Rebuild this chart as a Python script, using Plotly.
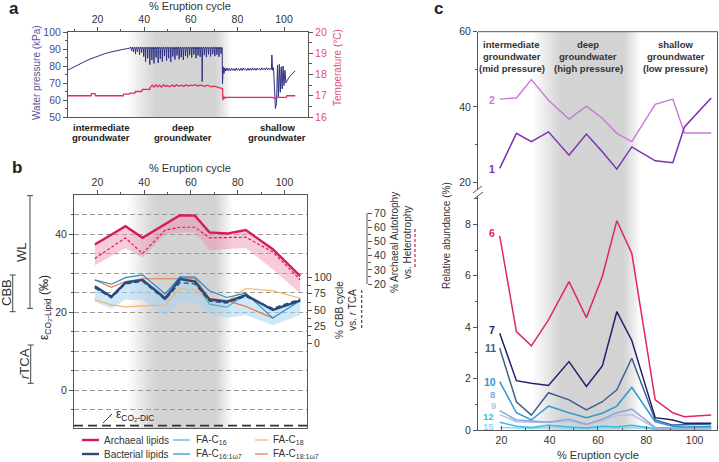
import plotly.graph_objects as go

W, H = 719, 462
FONT = "Liberation Sans, Arial, Helvetica, sans-serif"


def fx(p):
    return p / W


def fy(p):
    return 1 - p / H


# ---------------- Panel a : water pressure (kPa) and temperature (°C) ----------------
ramp_x = [7.3, 9, 11, 13, 15, 17, 19, 21, 23, 25, 27, 29, 31, 33, 34]
ramp_p = [77.6, 78.9, 80.3, 81.7, 83.0, 84.2, 85.3, 86.3, 87.2, 88.0, 88.7, 89.2, 89.8, 90.3, 90.6]

spike_x = [34.6, 35.4, 36.3, 37.1, 38.0, 38.9, 39.8, 40.6, 41.5, 42.4, 43.3, 44.2, 45.1, 46.0, 46.9,
           47.8, 48.7, 49.6, 50.5, 51.4, 52.3, 53.2, 54.1, 55.0, 55.9, 56.8, 57.7, 58.6, 59.5, 60.4,
           61.3, 62.2, 63.1, 64.0, 64.9, 65.8, 66.7, 67.6, 68.5, 69.4, 70.3, 71.2, 72.1, 73.0]
spike_p = [89.0, 88.2, 87.0, 88.5, 86.5, 87.8, 85.5, 82.5, 84.5, 80.8, 83.5, 81.5, 85.0, 81.8, 84.2,
           82.6, 85.8, 83.2, 84.6, 82.4, 85.6, 83.8, 86.2, 84.0, 85.2, 83.6, 86.0, 84.8, 86.4, 85.0,
           86.8, 84.6, 86.2, 85.4, 70.8, 86.4, 85.2, 86.8, 85.6, 87.0, 85.8, 86.6, 85.4, 87.2]

shallow_x = [73.45, 73.6, 73.9, 74.2, 74.6, 75.0, 75.5, 76.0, 76.5, 77.0, 77.5, 78.0, 78.5, 79.0, 79.5,
             80.0, 80.5, 81.0, 81.5, 82.0, 82.5, 83.0, 83.5, 84.0, 84.5, 85.0, 85.5, 86.0, 86.5, 87.0,
             87.5, 88.0, 88.5, 89.0, 89.5, 90.0, 90.5, 91.0, 91.5, 92.0, 92.5, 93.0, 93.5, 94.0, 94.4]
shallow_p = [90.8, 69.5, 79.5, 75.5, 78.9, 77.0, 78.8, 77.3, 78.6, 77.1, 78.7, 77.4, 78.5, 77.2, 78.8,
             77.5, 78.6, 77.3, 78.7, 77.4, 78.9, 77.6, 78.5, 77.3, 78.8, 77.5, 78.6, 77.4, 78.9, 77.6,
             78.7, 77.5, 78.8, 77.7, 78.6, 77.5, 78.9, 77.8, 78.7, 77.6, 79.0, 77.8, 78.8, 77.9, 78.5]

rec_x = [94.6, 94.8, 95.1, 95.5, 95.9, 96.3, 96.8, 97.2, 97.6, 98.0, 98.4, 98.8, 99.2, 99.6, 100.0,
         100.4, 100.8, 101.3, 102.0, 102.8, 103.6, 104.4, 104.8]
rec_p = [78.0, 86.5, 77.5, 79.0, 68.0, 55.0, 58.0, 80.5, 62.0, 81.0, 64.5, 79.5, 66.5, 80.0, 68.5,
         77.5, 70.0, 71.5, 73.0, 74.3, 75.5, 76.5, 77.2]

temp_x = [7.3, 17.2, 17.4, 18.9, 19.1, 31.0, 31.2, 33.6, 33.8, 36.0, 36.2, 39.0, 39.2, 42.4, 42.6,
          43.5, 44.2, 45.0, 45.8, 46.6, 47.4, 48.3, 49.1, 50.0, 51.0, 52.0, 53.0, 54.0, 55.0, 56.0,
          57.0, 58.0, 59.0, 60.0, 61.0, 62.0, 63.0, 64.0, 65.0, 66.0, 67.0, 68.0, 69.0, 70.0, 71.0,
          72.0, 73.0, 73.6, 73.8, 74.2, 74.6, 75.0, 95.0, 96.0, 97.0, 101.0, 101.2, 104.8]
temp_c = [17.0, 17.0, 17.1, 17.1, 17.0, 17.0, 17.08, 17.08, 17.12, 17.12, 17.2, 17.2, 17.3, 17.3, 17.4,
          17.5, 17.4, 17.52, 17.42, 17.5, 17.4, 17.52, 17.44, 17.48, 17.42, 17.5, 17.44, 17.52, 17.45, 17.5,
          17.44, 17.52, 17.46, 17.5, 17.48, 17.52, 17.46, 17.5, 17.48, 17.44, 17.5, 17.46, 17.42, 17.45, 17.4,
          17.38, 17.36, 17.35, 16.8, 16.96, 16.88, 16.92, 16.92, 16.88, 16.92, 16.92, 17.0, 17.0]

# ---------------- Panel b : isotope fractionation ----------------
arch_x = [18.9, 32.0, 39.3, 49.0, 55.3, 61.7, 67.9, 75.3, 83.4, 95.0, 106.7]
arch_eps = [37.4, 42.1, 39.1, 42.6, 44.9, 44.8, 40.5, 40.2, 41.1, 36.2, 29.3]
arch_low = [32.0, 36.5, 34.0, 40.0, 40.5, 40.5, 36.0, 36.2, 36.5, 31.0, 24.9]
arch_auto = [38, 52.5, 41.5, 58, 60, 60, 52.5, 52.5, 53, 42.5, 23]

bact_x = [18.9, 26.0, 32.0, 39.3, 49.0, 55.3, 61.7, 67.9, 75.3, 83.4, 95.0, 106.7]
bact_eps = [26.7, 24.0, 27.6, 28.3, 23.6, 28.5, 27.9, 23.3, 22.7, 24.4, 20.6, 23.0]
bact_low = [22.7, 21.0, 23.2, 23.2, 18.9, 22.7, 22.3, 19.6, 18.5, 19.3, 16.7, 19.3]
cbb_pct = [84, 69, 90, 94, 66, 92, 90, 64, 61, 71, 53, 67]
fa_c16 = [26.4, 24.0, 27.8, 28.4, 23.2, 29.0, 27.9, 22.1, 21.3, 24.6, 20.6, 23.2]
fa_c161 = [28.3, 27.2, 28.9, 29.6, 24.7, 29.1, 29.0, 25.5, 23.8, 24.9, 18.5, 23.0]
fa_c18 = [23.2, 21.9, 21.4, 21.6, 21.9, 26.1, 25.7, 23.0, 22.8, 26.1, 25.5, 23.6]
fa_c181_x = [18.9, 26.0, 32.0, 39.3, 49.0, 55.3, 61.7, 67.9, 75.3, 83.4, 95.0]
fa_c181 = [28.3, 26.4, 27.9, 28.6, 28.6, 28.6, 28.6, 23.6, 23.0, 21.5, 18.5]
eps_dic = -9.1

# ---------------- Panel c : relative abundance ----------------
c_x = [19.3, 26.2, 32.4, 39.5, 48.0, 55.2, 61.8, 67.8, 74.0, 83.7, 91.0, 95.8, 106.9]
s1 = [23.7, 33.0, 30.8, 33.4, 27.2, 32.8, 28.1, 23.5, 29.4, 25.7, 25.2, 34.7, 42.4]
s2 = [42.1, 42.4, 47.3, 41.8, 36.8, 40.2, 37.0, 33.0, 30.8, 40.7, 42.1, 33.1, 33.1]
s6 = [7.55, 3.83, 3.27, 4.28, 5.77, 4.37, 5.97, 8.14, 6.87, 1.17, 0.67, 0.52, 0.58]
s7 = [3.76, 1.92, 1.82, 1.73, 2.66, 1.69, 2.49, 4.60, 3.48, 0.48, 0.39, 0.26, 0.26]
s11 = [3.18, 1.10, 0.58, 1.45, 1.17, 0.78, 1.10, 1.56, 2.79, 0.39, 0.19, 0.20, 0.23]
s10 = [1.88, 0.67, 0.39, 0.93, 0.67, 0.48, 0.65, 0.93, 1.66, 0.32, 0.15, 0.12, 0.15]
s8 = [0.75, 0.39, 0.35, 0.30, 0.42, 0.22, 0.42, 0.67, 0.81, 0.10, 0.08, 0.08, 0.10]
s9 = [0.60, 0.32, 0.30, 0.30, 0.35, 0.20, 0.35, 0.55, 0.60, 0.08, 0.06, 0.06, 0.08]
s12 = [0.30, 0.15, 0.10, 0.18, 0.12, 0.08, 0.15, 0.12, 0.18, 0.05, 0.05, 0.05, 0.06]
s15 = [0.10, 0.08, 0.06, 0.10, 0.08, 0.05, 0.08, 0.10, 0.10, 0.03, 0.03, 0.03, 0.04]

# ------------------------------------------------------------------------------
pressure_x = list(ramp_x)
pressure_p = list(ramp_p)
for s, d in zip(spike_x, spike_p):
    pressure_x += [s - 0.35, s - 0.12, s, s + 0.12, s + 0.35]
    pressure_p += [91.2, 89.9, d, 89.7, 90.9]
pressure_x += shallow_x + rec_x
pressure_p += shallow_p + rec_p

fig = go.Figure()


def line(x, y, xa, ya, color, width, dash=None, **kw):
    fig.add_trace(go.Scatter(x=x, y=y, xaxis=xa, yaxis=ya, mode="lines",
                             line=dict(color=color, width=width, dash=dash),
                             showlegend=False, hoverinfo="skip", **kw))


# panel a
line(pressure_x, pressure_p, "x", "y", "#2f3080", 1.0)
line(temp_x, temp_c, "x", "y2", "#e8285c", 1.3)

# panel b bands
line(arch_x, arch_low, "x2", "y3", "rgba(0,0,0,0)", 0)
fig.add_trace(go.Scatter(x=arch_x, y=arch_eps, xaxis="x2", yaxis="y3", mode="lines", fill="tonexty",
                         fillcolor="rgba(240,140,178,0.45)", line=dict(width=0), showlegend=False,
                         hoverinfo="skip"))
line(bact_x, bact_low, "x2", "y3", "rgba(0,0,0,0)", 0)
fig.add_trace(go.Scatter(x=bact_x, y=bact_eps, xaxis="x2", yaxis="y3", mode="lines", fill="tonexty",
                         fillcolor="rgba(170,212,242,0.55)", line=dict(width=0), showlegend=False,
                         hoverinfo="skip"))
COL_ARCH = "#d81b55"
COL_BACT = "#2b4a7c"
COL_C16 = "#49b3c6"
COL_C161 = "#1f8ccc"
COL_C18 = "#f4b56c"
COL_C181 = "#e37b45"
line(bact_x, fa_c18, "x2", "y3", COL_C18, 1.2)
line(fa_c181_x, fa_c181, "x2", "y3", COL_C181, 1.2)
line(bact_x, fa_c16, "x2", "y3", COL_C16, 1.2)
line(bact_x, fa_c161, "x2", "y3", COL_C161, 1.2)
line(bact_x, bact_eps, "x2", "y3", COL_BACT, 2.4)
line(bact_x, cbb_pct, "x2", "y4", COL_BACT, 1.4, dash="5px,3px")
line(arch_x, arch_eps, "x2", "y3", COL_ARCH, 2.4)
line(arch_x, arch_auto, "x2", "y5", COL_ARCH, 1.2, dash="3px,2px")

# panel c
line(c_x, s2, "x4", "y7", "#c97ad9", 1.4)
line(c_x, s1, "x4", "y7", "#7a2fb5", 1.5)
for ser, col in [(s15, "#96d8ec"), (s12, "#36bde6"), (s9, "#b4c4e6"), (s8, "#8ea7da"),
                 (s10, "#2b9ad6"), (s11, "#3f5f8c"), (s7, "#1f216b"), (s6, "#e0275f")]:
    line(c_x, ser, "x3", "y6", col, 1.5)

# ---------------- shapes ----------------
shapes = []


def seg(x0, y0, x1, y1, color="#444", width=1, dash=None):
    shapes.append(dict(type="line", xref="paper", yref="paper", x0=fx(x0), y0=fy(y0), x1=fx(x1),
                       y1=fy(y1), line=dict(color=color, width=width, dash=dash)))


def shade(xref, ptop, pbot):
    n = 16
    for i in range(n):
        f = i / n
        shapes.append(dict(type="rect", xref=xref, yref="paper", x0=33 + 13 * f, x1=77.5 - 7.5 * f,
                           y0=fy(pbot), y1=fy(ptop), fillcolor="rgb(150,146,146)", opacity=0.028,
                           line=dict(width=0), layer="below"))


shade("x", 32, 117)
shade("x2", 195, 428)
shade("x3", 31.7, 430)

# DIC line
shapes.append(dict(type="line", xref="x2 domain", yref="y3", x0=0, x1=1, y0=eps_dic, y1=eps_dic,
                   line=dict(color="#333", width=1.6, dash="9px,5px")))
seg(103, 423, 112, 414, "#333", 1)

# brackets
for (bx, t, b) in [(30, 195.7, 308.3), (12.7, 275, 311.7), (30.7, 345, 383.3)]:
    seg(bx, t, bx, b)
    seg(bx - 3, t, bx + 3, t)
    seg(bx - 3, b, bx + 3, b)

# secondary-scale axis line (archaeal autotrophy) and indicators
seg(367, 213, 367, 284, "#555", 1)
seg(415, 229, 415, 268, COL_ARCH, 1.2, "3px,2px")
seg(361.7, 290, 361.7, 330, COL_BACT, 1.2, "3px,2px")

# panel c frame and axis break
seg(478, 31.7, 717.5, 31.7, "#555", 1)
seg(717.5, 31.7, 717.5, 430, "#555", 1)
seg(473, 193, 482, 186, "#555", 1)
seg(474, 199, 483, 192, "#555", 1)

# legend of panel b
legend_items = [
    (82, 99, 440, COL_ARCH, 2.4, 102, "Archaeal lipids"),
    (82, 99, 454, COL_BACT, 2.4, 102, "Bacterial lipids"),
    (173, 190, 440, COL_C16, 1.2, 194, "FA-C<sub>16</sub>"),
    (173, 190, 454, COL_C161, 1.2, 194, "FA-C<sub>16:1ω7</sub>"),
    (255, 268, 440, COL_C18, 1.2, 271, "FA-C<sub>18</sub>"),
    (255, 268, 454, COL_C181, 1.2, 271, "FA-C<sub>18:1ω7</sub>"),
]
for x0, x1, yy, col, wdt, _, _ in legend_items:
    seg(x0, yy, x1, yy, col, wdt)

# ---------------- annotations ----------------
anns = []


def text(t, x, y, size=10, color="#222", angle=0, xanchor="center", yanchor="middle"):
    anns.append(dict(text=t, x=fx(x), y=fy(y), xref="paper", yref="paper", showarrow=False,
                     font=dict(family=FONT, size=size, color=color), textangle=angle,
                     xanchor=xanchor, yanchor=yanchor))


for _, _, yy, _, _, tx, label in legend_items:
    text(label, tx, yy, 10, "#333", xanchor="left")

text("<b>a</b>", 14, 9, 17, "#222")
text("<b>b</b>", 17, 167, 17, "#222")
text("<b>c</b>", 439, 9, 17, "#222")

text("% Eruption cycle", 190, 6, 11, "#333")
text("% Eruption cycle", 190, 168, 11, "#333")
text("% Eruption cycle", 598, 455, 11, "#333")

text("Water pressure (kPa)", 36, 73, 10, "#55559a", -90)
text("Temperature (°C)", 337, 68, 10, "#e0507f", -90)
text("Relative abundance (%)", 446, 236, 10, "#333", -90)
text("ε<sub>CO₂-Lipid</sub> (‰)", 45, 308, 12, "#222", -90)
text("WL", 22, 252, 13, "#333", -90)
text("CBB", 6, 293, 13, "#333", -90)
text("<i>r</i>TCA", 24, 364, 13, "#333", -90)
text("% CBB cycle<br>vs. <i>r</i> TCA", 346, 310, 10, "#333", -90)
text("% Archaeal Autotrophy<br>vs. Heterotrophy", 401, 243, 10, "#333", -90)
text("ε<sub>CO₂-DIC</sub>", 114, 415, 12, "#222", xanchor="left")

for cx, words in [(101, ["intermediate", "groundwater"]), (183, ["deep", "groundwater"]),
                  (277, ["shallow", "groundwater"])]:
    for k, wd in enumerate(words):
        text("<b>" + wd + "</b>", cx, 127 + 10.5 * k, 9.5, "#222")

for cx, words in [(511.5, ["intermediate", "groundwater", "(mid pressure)"]),
                  (588, ["deep", "groundwater", "(high pressure)"]),
                  (675.7, ["shallow", "groundwater", "(low pressure)"])]:
    for k, wd in enumerate(words):
        text("<b>" + wd + "</b>", cx, 44 + 12.2 * k, 9.5, "#333")

for lab, lx, ly, col, sz in [("2", 491.7, 100, "#c97ad9", 10.5), ("1", 491.7, 169.3, "#7a2fb5", 10.5),
                             ("6", 491.7, 233.3, "#e0275f", 10.5), ("7", 492.3, 330, "#1f216b", 10.5),
                             ("11", 490.5, 348, "#3f5f8c", 10.5), ("10", 490, 381.7, "#2b9ad6", 10.5),
                             ("8", 492, 394.5, "#8ea7da", 9.5), ("9", 493, 405.2, "#b4c4e6", 9.5),
                             ("12", 489, 416.2, "#36bde6", 9.5), ("15", 489, 426.2, "#96d8ec", 9.5)]:
    text("<b>" + lab + "</b>", lx, ly, sz, col)

# ---------------- axes ----------------
TF = dict(family=FONT, size=10.5, color="#333")
base = dict(showgrid=False, zeroline=False, linecolor="#555", linewidth=1, tickcolor="#555",
            ticks="outside", ticklen=4, tickwidth=1, tickfont=TF)


def minor(vals, ticks="outside", **kw):
    d = dict(tickvals=vals, ticks=ticks, ticklen=2.5, tickcolor="#555", tickwidth=1)
    d.update(kw)
    return d


layout_axes = dict(
    xaxis=dict(base, domain=[fx(68), fx(308)], range=[7.3, 110.3], anchor="y", side="top",
               showline=True, mirror=True, tickvals=[20, 40, 60, 80, 100],
               minor=minor([10, 30, 50, 70, 90])),
    yaxis=dict(base, domain=[fy(117), fy(32)], range=[50, 100], anchor="x", showline=True,
               tickvals=[50, 60, 70, 80, 90, 100], minor=minor([55, 65, 75, 85, 95]),
               tickfont=dict(family=FONT, size=10.5, color="#4b4b8d")),
    yaxis2=dict(base, overlaying="y", side="right", anchor="x", range=[16, 20], showline=True,
                tickvals=[16, 17, 18, 19, 20], minor=minor([16.5, 17.5, 18.5, 19.5]),
                tickfont=dict(family=FONT, size=10.5, color="#e0507f")),
    xaxis2=dict(base, domain=[fx(74), fx(307)], range=[10, 109.6], anchor="y3", side="top",
                showline=True, mirror=True, tickvals=[20, 40, 60, 80, 100],
                minor=minor([30, 50, 70, 90])),
    yaxis3=dict(base, domain=[fy(428), fy(195)], range=[-9.7, 50.1], anchor="x2", showline=True,
                mirror=True, tickvals=[0, 20, 40], showgrid=True, gridcolor="#9a9a9a",
                griddash="5px,3px", gridwidth=0.9,
                minor=dict(tickvals=[-5, 5, 10, 15, 25, 30, 35, 45], ticks="outside", ticklen=2.5,
                           tickcolor="#555", showgrid=True, gridcolor="#9a9a9a",
                           griddash="5px,3px", gridwidth=0.9)),
    yaxis4=dict(base, overlaying="y3", anchor="x2", side="right", range=[-128.3, 224.7],
                showline=False, tickvals=[0, 25, 50, 75, 100], minor=minor([12.5, 37.5, 62.5, 87.5])),
    yaxis5=dict(base, overlaying="y3", anchor="free", position=fx(367), side="right",
                range=[-81.4, 82.7], showline=False, tickvals=[20, 30, 40, 50, 60, 70],
                minor=minor([25, 35, 45, 55, 65])),
    xaxis3=dict(base, domain=[fx(478), fx(717.5)], range=[10.3, 109.5], anchor="y6", side="bottom",
                showline=True, ticks="inside", tickvals=[20, 40, 60, 80, 100],
                minor=minor([30, 50, 70, 90], ticks="inside")),
    yaxis6=dict(base, domain=[fy(430), fy(196)], range=[0, 9.1], anchor="x3", showline=True,
                tickvals=[0, 2, 4, 6, 8], minor=minor([1, 3, 5, 7, 9])),
    xaxis4=dict(domain=[fx(478), fx(717.5)], range=[10.3, 109.5], anchor="y7", visible=False,
                showgrid=False, zeroline=False),
    yaxis7=dict(base, domain=[fy(190), fy(31.7)], range=[17.95, 60], anchor="x4", showline=True,
                tickvals=[20, 40, 60], minor=minor([30, 50])),
)

fig.update_layout(
    width=W, height=H, autosize=False, template="none",
    margin=dict(l=0, r=0, t=0, b=0, pad=0),
    paper_bgcolor="white", plot_bgcolor="rgba(0,0,0,0)",
    font=dict(family=FONT, size=10.5, color="#333"),
    showlegend=False, shapes=shapes, annotations=anns,
    **layout_axes,
)

fig.write_html("out.html", config={"displayModeBar": False},
               post_script="document.body.style.margin='0';document.body.style.padding='0';")
